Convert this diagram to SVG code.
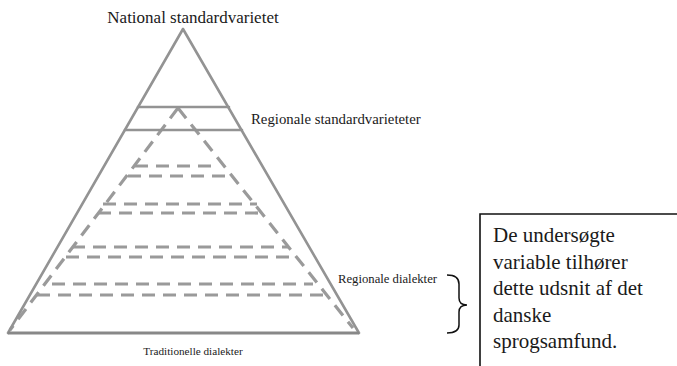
<svg xmlns="http://www.w3.org/2000/svg" width="677" height="366" viewBox="0 0 677 366">
<style>
.solid{stroke:#939393;stroke-width:2.6;fill:none;stroke-linecap:round}
.dash{stroke:#9a9a9a;stroke-width:3.2;fill:none;stroke-dasharray:13 8}
.lbl{font-family:"Liberation Serif","Times New Roman",serif;fill:#1a1a1a}
</style>
<rect width="677" height="366" fill="#ffffff"/>
<g id="connectors">
<path class="dash" d="M178,108 L10,330"/>
<path class="dash" d="M178,108 L353,328"/>
<path class="dash" d="M135,166 H214"/>
<path class="dash" d="M128,176 H231"/>
<path class="dash" d="M103,204 H257"/>
<path class="dash" d="M98,213 H262"/>
<path class="dash" d="M72,247 H288"/>
<path class="dash" d="M66,257 H297"/>
<path class="dash" d="M52,284 H313"/>
<path class="dash" d="M37,295 H328"/>
</g>
<g id="pyramid">
<path class="solid" d="M183,29 L8,333 M183,29 L359,333"/>
<path class="solid" d="M138,107 H229 M125,130 H242"/>
<path d="M8,333 H359" stroke="#888" stroke-width="3.2"/>
</g>
<g id="label-national"><text class="lbl" x="193" y="23" font-size="17" text-anchor="middle">National standardvarietet</text></g>
<g id="label-regstd"><text class="lbl" x="251" y="124" font-size="14.8">Regionale standardvarieteter</text></g>
<g id="label-regdial"><text class="lbl" x="338" y="283" font-size="12.7">Regionale dialekter</text></g>
<g id="label-trad"><text class="lbl" x="193" y="355" font-size="11.2" text-anchor="middle">Traditionelle dialekter</text></g>
<g id="brace"><path d="M447,275 Q459,275 459,284 L459,298 Q459,305 467,305 Q459,305 459,312 L459,325 Q459,333 447,333" fill="none" stroke="#111" stroke-width="1.5"/></g>
<g id="note">
<path d="M480,366 V214 H677" fill="none" stroke="#111" stroke-width="1.6"/>
<text class="lbl" font-size="21">
<tspan x="493" y="242">De undersøgte</tspan>
<tspan x="493" y="268.5">variable tilhører</tspan>
<tspan x="493" y="295">dette udsnit af det</tspan>
<tspan x="493" y="321.5">danske</tspan>
<tspan x="493" y="348">sprogsamfund.</tspan>
</text>
</g>
</svg>
